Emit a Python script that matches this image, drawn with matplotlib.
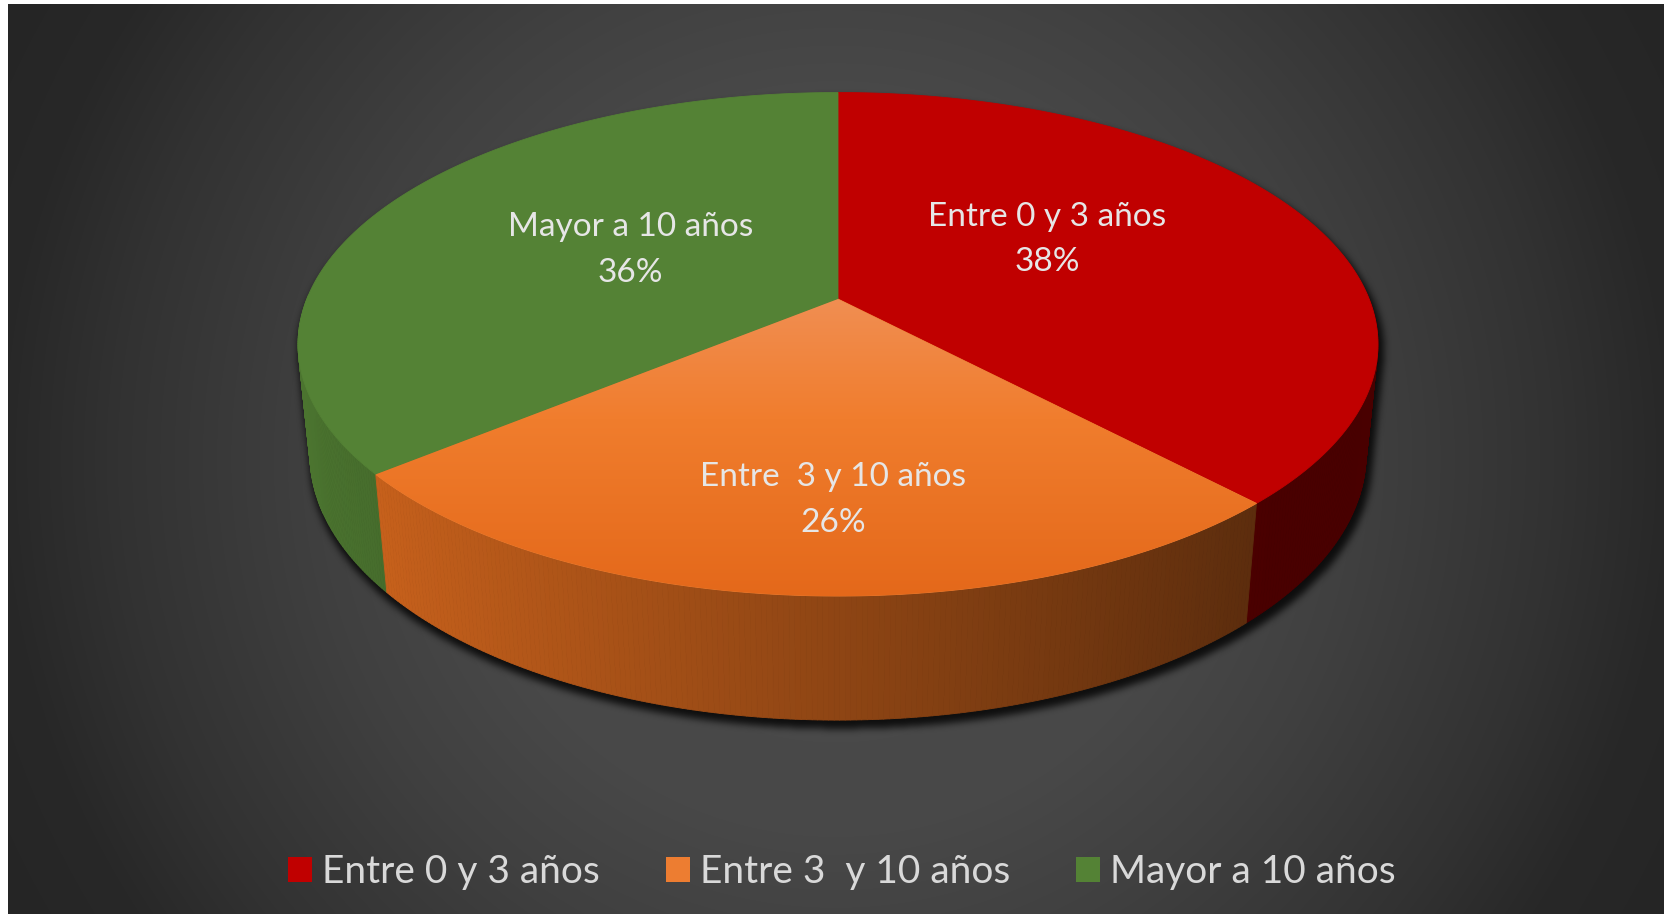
import numpy as np
import matplotlib
matplotlib.use("Agg")
import matplotlib.pyplot as plt
from matplotlib.patches import Polygon, Patch
from matplotlib.collections import PolyCollection
from matplotlib.path import Path

plt.rcParams['font.family'] = ['Lato', 'DejaVu Sans']

# data
categories = ["Entre 0 y 3 años", "Entre 3  y 10 años", "Mayor a 10 años"]
pie_labels = ["Entre 0 y 3 años", "Entre  3 y 10 años", "Mayor a 10 años"]
shares = [38, 26, 36]
top_colors = ["#C00000", "#ED7D31", "#548235"]
side_rgb = [(192, 0, 0), (237, 115, 33), (84, 130, 53)]

W, H = 1667, 914
fig = plt.figure(figsize=(W / 100, H / 100), dpi=100, facecolor="white")
ax = fig.add_axes([0, 0, 1, 1])

# background radial gradient
x0, x1, y0, y1 = 8, 1664, 4, 914
gx, gy = np.meshgrid(np.arange(x0, x1) + 0.5, np.arange(y0, y1) + 0.5)
bcx, bcy = (x0 + x1) / 2, (y0 + y1) / 2
r = np.hypot(gx - bcx, gy - bcy) / np.hypot(x1 - bcx, y1 - bcy)
v = np.interp(r, [0, .4, .55, .76, .88, 1], [76, 72, 64, 50, 40, 37]) / 255
ax.imshow(np.dstack([v, v, v]), extent=(x0, x1, y1, y0), zorder=0)

# perspective view of the cylinder
CX, CY = 838, 299
F, D = 2624, 4.94
ELEV = np.radians(27.3)
DEPTH = 0.235
se, ce = np.sin(ELEV), np.cos(ELEV)


def project(theta, z):
    X, Y = np.cos(theta), np.sin(theta)
    d = D + Y * ce - z * se
    return CX + F * X / d, CY - F * (Y * se + z * ce) / d, d


def hull(pts):
    pts = sorted(set(map(tuple, pts)))

    def cross(o, a, b):
        return (a[0] - o[0]) * (b[1] - o[1]) - (a[1] - o[1]) * (b[0] - o[0])
    lower, upper = [], []
    for p in pts:
        while len(lower) >= 2 and cross(lower[-2], lower[-1], p) <= 0:
            lower.pop()
        lower.append(p)
    for p in reversed(pts):
        while len(upper) >= 2 and cross(upper[-2], upper[-1], p) <= 0:
            upper.pop()
        upper.append(p)
    return np.array(lower[:-1] + upper[:-1])


def box_blur(a, rad, axis):
    pad = [(0, 0), (0, 0)]
    pad[axis] = (rad + 1, rad)
    c = np.cumsum(np.pad(a, pad, mode="edge"), axis=axis)
    if axis == 0:
        return (c[2 * rad + 1:] - c[:-2 * rad - 1]) / (2 * rad + 1)
    return (c[:, 2 * rad + 1:] - c[:, :-2 * rad - 1]) / (2 * rad + 1)


# soft shadow under the pie
t = np.linspace(0, 2 * np.pi, 720)
tx, ty, _ = project(t, 0)
bx, by, _ = project(t, -DEPTH)
hp = hull(np.column_stack([np.r_[tx, bx], np.r_[ty, by]]))
hp = (hp - [CX, CY]) * 1.006 + [CX + 3, CY + 6]
sx0, sx1, sy0, sy1 = 240, 1460, 50, 800
sgx, sgy = np.meshgrid(np.arange(sx0, sx1) + 0.5, np.arange(sy0, sy1) + 0.5)
mask = Path(hp).contains_points(np.column_stack([sgx.ravel(), sgy.ravel()]))
mask = mask.reshape(sgx.shape).astype(float)
for _ in range(3):
    mask = box_blur(box_blur(mask, 3, 0), 3, 1)
shadow = np.zeros(mask.shape + (4,))
shadow[..., 3] = 0.8 * mask
ax.imshow(shadow, extent=(sx0, sx1, sy1, sy0), zorder=1)

# slice bounds, clockwise from 12 o'clock
bounds = np.radians(90 - 360 * np.r_[0, np.cumsum(shares)] / sum(shares))

# side walls
quads, cols, depths = [], [], []
for i in range(len(shares)):
    n = max(int(abs(np.degrees(bounds[i] - bounds[i + 1])) * 2), 2)
    th = np.linspace(bounds[i], bounds[i + 1], n + 1)
    for a, b in zip(th[:-1], th[1:]):
        mid = (a + b) / 2
        if np.sin(mid) > 0.02:
            continue
        ax_, ay_, _ = project(np.array([a, b]), 0)
        bx_, by_, _ = project(np.array([b, a]), -DEPTH)
        quads.append(np.column_stack([np.r_[ax_, bx_], np.r_[ay_, by_]]))
        f = max(0.38, 0.60 - 0.307 * np.cos(mid))
        cols.append(tuple(min(1, c * f / 255) for c in side_rgb[i]))
        depths.append(project(mid, 0)[2])
order = np.argsort(depths)[::-1]
ax.add_collection(PolyCollection([quads[k] for k in order],
                                 facecolors=[cols[k] for k in order],
                                 edgecolors=[cols[k] for k in order],
                                 linewidths=0.6, zorder=2))

# top faces
for i in range(len(shares)):
    n = max(int(abs(np.degrees(bounds[i] - bounds[i + 1])) * 2), 2)
    th = np.linspace(bounds[i], bounds[i + 1], n + 1)
    px, py, _ = project(th, 0)
    pts = np.column_stack([np.r_[CX, px], np.r_[CY, py]])
    poly = Polygon(pts, closed=True, facecolor=top_colors[i],
                   edgecolor=top_colors[i], linewidth=0.6, zorder=3)
    ax.add_patch(poly)
    if i == 1:
        ys = np.arange(int(pts[:, 1].min()) - 2, int(pts[:, 1].max()) + 3)
        yy = ys[:, None] - CY
        grad = np.dstack([np.interp(yy, [0, 120, 300], [241, 240, 228]),
                          np.interp(yy, [0, 120, 300], [142, 125, 104]),
                          np.interp(yy, [0, 120, 300], [82, 45, 26])]) / 255
        im = ax.imshow(grad, extent=(pts[:, 0].min() - 2, pts[:, 0].max() + 2,
                                     ys[-1], ys[0]),
                       aspect="auto", zorder=3.5)
        im.set_clip_path(poly)

# data labels
label_pos = [(1047, 225.5, 270.7), (833.5, 485.7, 531.7), (630.5, 236, 281.5)]
for i, (lx, b1, b2) in enumerate(label_pos):
    ax.text(lx, b1, pie_labels[i], ha="center", va="baseline", fontsize=24,
            color="#E6E6E6", zorder=5)
    ax.text(lx, b2, f"{shares[i]}%", ha="center", va="baseline", fontsize=24,
            color="#E6E6E6", zorder=5)

# legend
handles = [Patch(facecolor=c, edgecolor="none") for c in top_colors]
ax.legend(handles, categories, loc="center", bbox_to_anchor=(842 / W, 1 - 872 / H),
          ncol=3, frameon=False, fontsize=28, labelcolor="#D9D9D9",
          handlelength=0.62, handleheight=0.62, handletextpad=0.25,
          columnspacing=1.7, borderpad=0, borderaxespad=0)

ax.set_aspect("auto")
ax.set_xlim(0, W)
ax.set_ylim(H, 0)
ax.axis("off")
fig.savefig("out.png", dpi=100, facecolor="white")
